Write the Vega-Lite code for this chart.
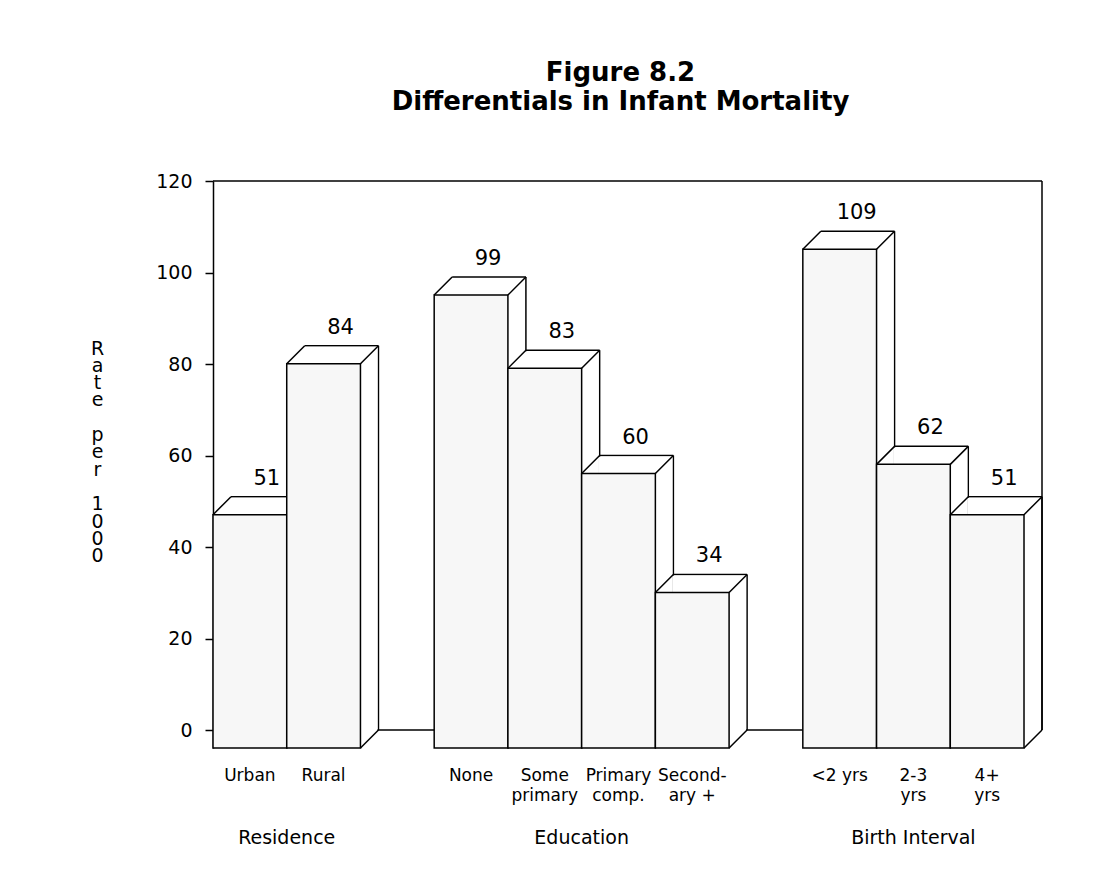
{
"$schema":"https://vega.github.io/schema/vega-lite/v6.json",
"width":829,"height":567,"autosize":"none",
"padding":{"left":213,"top":181,"right":76,"bottom":121},
"background":"white",
"config":{"view":{"stroke":null},"font":"DejaVu Sans"},
"title":{"text":["Figure 8.2","Differentials in Infant Mortality"],"font":"DejaVu Sans","fontSize":26,"fontWeight":"bold","color":"black","anchor":"middle","frame":"group","lineHeight":29,"offset":57,"dx":-7},
"datasets":{
 "bars":[
  {"group":"Residence","cat":"Urban","rate":51},
  {"group":"Residence","cat":"Rural","rate":84},
  {"group":"Education","cat":"None","rate":99},
  {"group":"Education","cat":"Some primary","rate":83},
  {"group":"Education","cat":"Primary comp.","rate":60},
  {"group":"Education","cat":"Secondary +","rate":34},
  {"group":"Birth Interval","cat":"<2 yrs","rate":109},
  {"group":"Birth Interval","cat":"2-3 yrs","rate":62},
  {"group":"Birth Interval","cat":"4+ yrs","rate":51}
 ],
 "groups":[
  {"group":"Residence","cat":"Rural"},
  {"group":"Education","cat":"Primary comp."},
  {"group":"Birth Interval","cat":"2-3 yrs"}
 ]
},
"layer":[
 {"data":{"values":[{}]},"mark":{"type":"rule","strokeWidth":1.5,"color":"black"},"encoding":{"y":{"datum":0,"type":"quantitative"}}},
 {"data":{"values":[{}]},"mark":{"type":"rule","strokeWidth":1.5,"color":"black"},"encoding":{"y":{"datum":120,"type":"quantitative"}}},
 {"data":{"values":[{}]},"mark":{"type":"rule","strokeWidth":1.5,"color":"black"},"encoding":{"x":{"value":{"expr":"width"}},"y":{"datum":120,"type":"quantitative"},"y2":{"datum":0}}},
 {"data":{"name":"bars"},"mark":{"type":"rule","strokeWidth":1.5,"color":"black","xOffset":18},
  "encoding":{
   "x":{"field":"cat","type":"nominal","bandPosition":1,
    "scale":{"type":"band","domain":["Urban","Rural"," ","None","Some primary","Primary comp.","Secondary +","  ","<2 yrs","2-3 yrs","4+ yrs"],"paddingInner":0,"paddingOuter":0.122,"align":0},
    "axis":{"title":null,"domain":false,"ticks":false,"labelPadding":19,"labelFont":"DejaVu Sans","labelFontSize":17,"labelLineHeight":20,"labelColor":"black","labelAngle":0,"labelOverlap":false,
     "labelExpr":"datum.label == 'Some primary' ? ['Some','primary'] : datum.label == 'Primary comp.' ? ['Primary','comp.'] : datum.label == 'Secondary +' ? ['Second-','ary +'] : datum.label == '2-3 yrs' ? ['2-3','yrs'] : datum.label == '4+ yrs' ? ['4+','yrs'] : datum.label"}},
   "y":{"field":"rate","type":"quantitative","scale":{"domain":[-3.934,120],"nice":false,"zero":false},
    "axis":{"values":[0,20,40,60,80,100,120],"title":["R","a","t","e","\u200b","p","e","r","\u200b","1","0","0","0"],"titleAngle":0,"titleAlign":"center","titleBaseline":"top","titleX":-116,"titleY":158,"titleFont":"DejaVu Sans","titleFontSize":19,"titleFontWeight":"normal","titleLineHeight":17.3,"titleColor":"black","labelFont":"DejaVu Sans","labelFontSize":19,"labelColor":"black","labelPadding":13,"tickSize":8,"tickWidth":1.5,"tickColor":"black","domainColor":"black","domainWidth":1.5,"grid":false}},
   "y2":{"datum":0}}},
 {"data":{"name":"bars"},"mark":{"type":"rule","strokeWidth":1.5,"color":"black","xOffset":18,"x2Offset":18},
  "encoding":{"x":{"field":"cat","type":"nominal","bandPosition":0},"x2":{"field":"cat","bandPosition":1},"y":{"field":"rate","type":"quantitative"}}},
 {"data":{"name":"bars"},"mark":{"type":"bar","fill":"white","strokeWidth":0,"xOffset":17,"yOffset":1,"y2Offset":1},
  "encoding":{"x":{"field":"cat","type":"nominal"},"y":{"field":"rate","type":"quantitative"},"y2":{"datum":0}}},
 {"data":{"name":"bars"},"mark":{"type":"rule","strokeWidth":1.5,"color":"black","yOffset":18,"x2Offset":18},
  "encoding":{"x":{"field":"cat","type":"nominal","bandPosition":0},"x2":{"field":"cat","bandPosition":0},"y":{"field":"rate","type":"quantitative"},"y2":{"field":"rate"}}},
 {"data":{"name":"bars"},"mark":{"type":"rule","strokeWidth":1.5,"color":"black","yOffset":18,"x2Offset":18},
  "encoding":{"x":{"field":"cat","type":"nominal","bandPosition":1},"x2":{"field":"cat","bandPosition":1},"y":{"field":"rate","type":"quantitative"},"y2":{"field":"rate"}}},
 {"data":{"name":"bars"},"mark":{"type":"rule","strokeWidth":1.5,"color":"black","yOffset":18,"x2Offset":18},
  "encoding":{"x":{"field":"cat","type":"nominal","bandPosition":1},"x2":{"field":"cat","bandPosition":1},"y":{"datum":0,"type":"quantitative"},"y2":{"datum":0}}},
 {"data":{"name":"bars"},"mark":{"type":"bar","fill":"#f7f7f7","stroke":"black","strokeWidth":1.5,"yOffset":18,"y2Offset":18},
  "encoding":{"x":{"field":"cat","type":"nominal"},"y":{"field":"rate","type":"quantitative"},"y2":{"datum":0}}},
 {"data":{"name":"bars"},"mark":{"type":"text","font":"DejaVu Sans","fontSize":21,"color":"black","dx":17,"dy":-12,"baseline":"alphabetic","align":"center"},
  "encoding":{"x":{"field":"cat","type":"nominal"},"y":{"field":"rate","type":"quantitative"},"text":{"field":"rate","type":"quantitative"}}},
 {"data":{"name":"groups"},"transform":[{"filter":"datum.group != 'Birth Interval'"}],"mark":{"type":"text","font":"DejaVu Sans","fontSize":19,"color":"black","baseline":"alphabetic","align":"center"},
  "encoding":{"x":{"field":"cat","type":"nominal","bandPosition":0},"y":{"datum":-24.9,"type":"quantitative"},"text":{"field":"group"}}},
 {"data":{"name":"groups"},"transform":[{"filter":"datum.group == 'Birth Interval'"}],"mark":{"type":"text","font":"DejaVu Sans","fontSize":19,"color":"black","baseline":"alphabetic","align":"center"},
  "encoding":{"x":{"field":"cat","type":"nominal","bandPosition":0.5},"y":{"datum":-24.9,"type":"quantitative"},"text":{"field":"group"}}}
]
}
